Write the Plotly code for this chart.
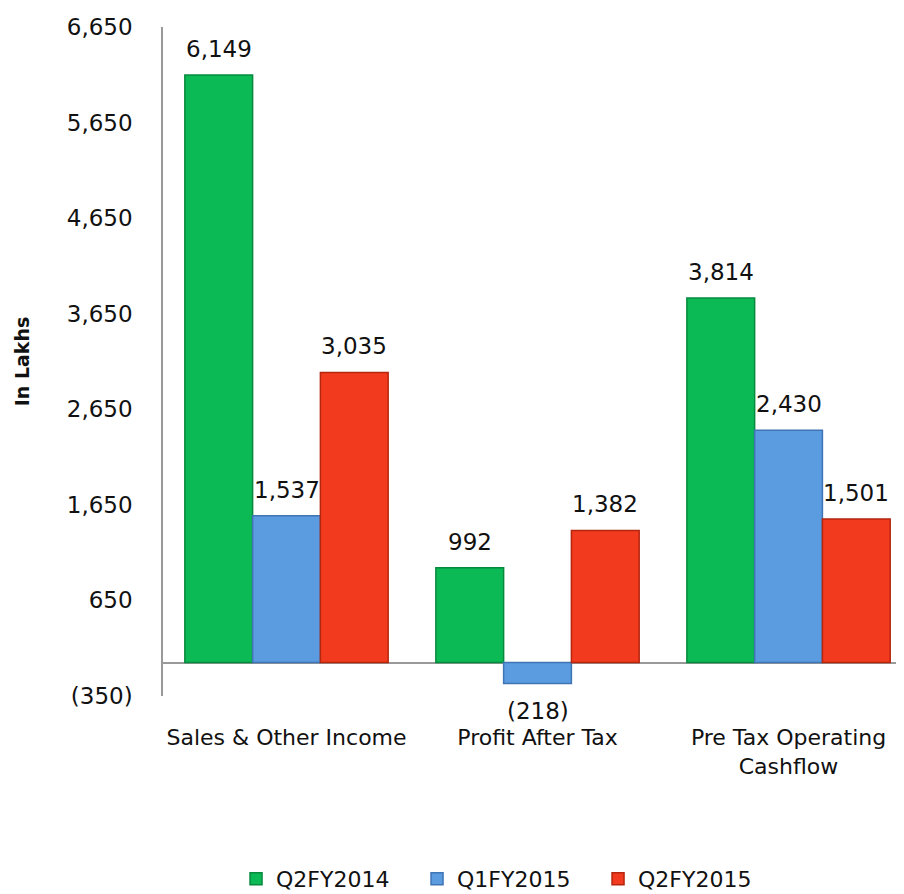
import plotly.graph_objects as go

categories = ["Sales & Other Income", "Profit After Tax", "Pre Tax Operating<br>Cashflow"]
series_names = ["Q2FY2014", "Q1FY2015", "Q2FY2015"]
q2fy2014 = [6149, 992, 3814]
q1fy2015 = [1537, -218, 2430]
q2fy2015 = [3035, 1382, 1501]
tick_vals = [-350, 650, 1650, 2650, 3650, 4650, 5650, 6650]
tick_text = ["(350)", "650", "1,650", "2,650", "3,650", "4,650", "5,650", "6,650"]

colors = ["#0bb955", "#5b9be0", "#f23a1e"]
lines = ["#078a3e", "#3f74b5", "#b5260f"]

def fmt(v):
    return f"({abs(v):,})" if v < 0 else f"{v:,}"

FONT = "DejaVu Sans"
BARGAP = 0.19
bar_w = (1 - BARGAP) / 3

fig = go.Figure()
all_vals = [q2fy2014, q1fy2015, q2fy2015]
for i, (name, vals, c, lc) in enumerate(zip(series_names, all_vals, colors, lines)):
    fig.add_trace(go.Bar(
        name=name, x=[0, 1, 2], y=vals,
        marker=dict(color=c, line=dict(color=lc, width=1.5)),
    ))
    for j, v in enumerate(vals):
        fig.add_annotation(x=j + (i - 1) * bar_w, y=v, text=fmt(v), showarrow=False,
                           yshift=26 if v >= 0 else -28,
                           font=dict(family=FONT, size=23, color="#111"))

fig.update_layout(
    width=896, height=886,
    margin=dict(l=155, r=0, t=19, b=198, autoexpand=False),
    plot_bgcolor="white", paper_bgcolor="white",
    barmode="group", bargap=BARGAP, bargroupgap=0,
    font=dict(family=FONT, size=23, color="#111"),
    showlegend=True,
    legend=dict(orientation="h", xref="container", x=0.2545, xanchor="left",
                yref="container", y=0.017, yanchor="middle",
                font=dict(family=FONT, size=22), entrywidth=136, entrywidthmode="pixels",
                itemwidth=30, tracegroupgap=0),
    xaxis=dict(range=[-0.492, 2.46], tickvals=[0, 1, 2], ticktext=categories,
               showgrid=False, showline=False, zeroline=False, ticks="outside",
               ticklen=22, tickcolor="rgba(0,0,0,0)", automargin=False,
               tickfont=dict(family=FONT, size=22)),
    yaxis=dict(range=[-350, 6650], tickvals=tick_vals, ticktext=tick_text,
               showgrid=False, showline=True, linecolor="#999", linewidth=1.5,
               zeroline=True, zerolinecolor="#999", zerolinewidth=1.5,
               ticks="outside", ticklen=24, tickcolor="rgba(0,0,0,0)", automargin=False,
               tickfont=dict(family=FONT, size=23),
               title=dict(text="<b>In Lakhs</b>", font=dict(family=FONT, size=19), standoff=32)),
)
fig.write_html("out.html")
